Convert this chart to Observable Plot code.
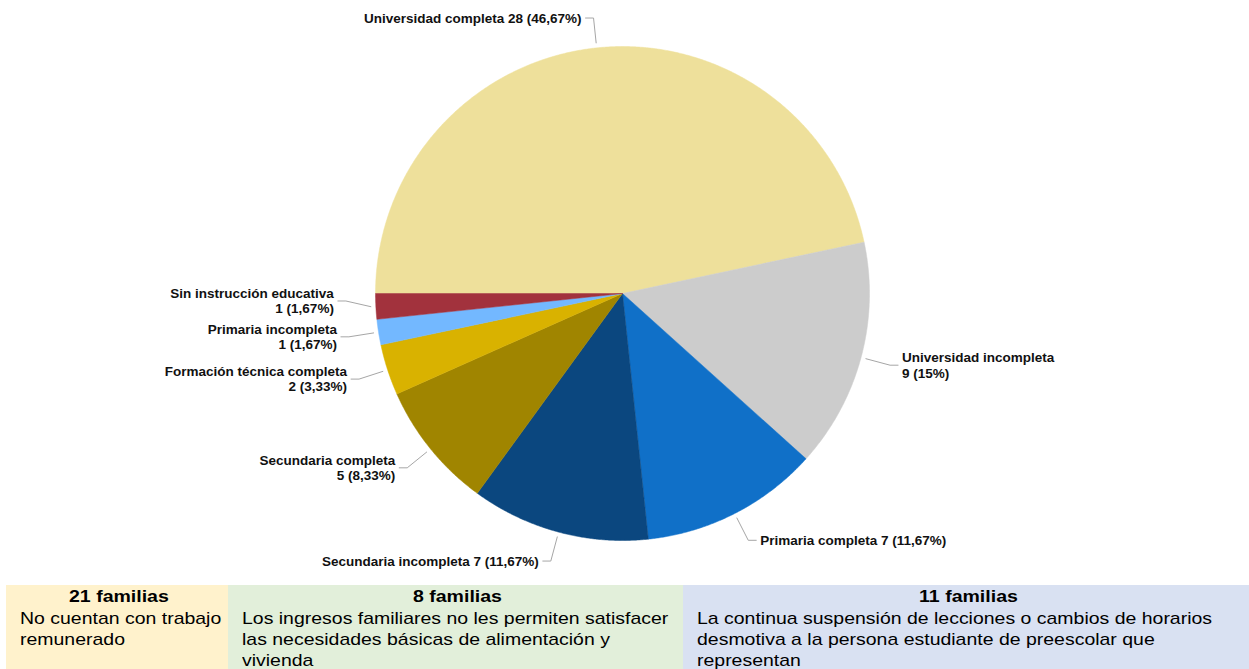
<!DOCTYPE html>
<html>
<head>
<meta charset="utf-8">
<script src="https://cdn.jsdelivr.net/npm/d3@7"></script>
<script src="https://cdn.jsdelivr.net/npm/@observablehq/plot@0.6"></script>
<style>
  html, body { margin: 0; padding: 0; background: #fff; overflow: hidden; }
  #chart svg { display: block; }
  #tbl { display: flex; margin-left: 6px; width: 1243px; font-family: "Liberation Sans", Arial, sans-serif; color: #000; }
  #tbl .col { height: 90px; box-sizing: border-box; padding: 1px 10px 0 14px; overflow: hidden; }
  #tbl .hd { font-weight: bold; font-size: 16px; line-height: 22px; text-align: center; }
  #tbl .hd span { display: inline-block; transform: scaleX(1.22); transform-origin: center; }
  #tbl .bd { font-size: 17px; line-height: 21px; white-space: pre; }
  #tbl .bd span { display: inline-block; transform: scaleX(1.145); transform-origin: left top; }
</style>
</head>
<body>
<div id="chart"></div>
<div id="tbl"></div>
<script>
// ---- data ----
const categories = ["Universidad completa", "Universidad incompleta", "Primaria completa", "Secundaria incompleta", "Secundaria completa", "Formación técnica completa", "Primaria incompleta", "Sin instrucción educativa"];
const counts = [28, 9, 7, 7, 5, 2, 1, 1];
const sliceColors = ["#EEE09B", "#CCCCCC", "#1070C8", "#0B477F", "#A08500", "#D9B200", "#73B8FF", "#A2323D"];

const familias = [21, 8, 11];
const reasons = [
  "No cuentan con trabajo\nremunerado",
  "Los ingresos familiares no les permiten satisfacer\nlas necesidades básicas de alimentación y\nvivienda",
  "La continua suspensión de lecciones o cambios de horarios\ndesmotiva a la persona estudiante de preescolar que\nrepresentan"
];
const boxColors = ["#FFF2CC", "#E2EFDA", "#D9E1F2"];
const boxWidths = [222, 455, 566];

// ---- layout ----
const W = 1249, H = 585;
const cx = 622, cy = 293, R = 247;
const labelLayout = {
  "Universidad completa": {side: -1, wrap: false, dy: 0},
  "Universidad incompleta": {side: 1, wrap: true, dy: 0},
  "Primaria completa": {side: 1, wrap: false, dy: 0},
  "Secundaria incompleta": {side: -1, wrap: false, dy: 0},
  "Secundaria completa": {side: -1, wrap: true, dy: 0},
  "Formación técnica completa": {side: -1, wrap: true, dy: 0},
  "Primaria incompleta": {side: -1, wrap: true, dy: 0},
  "Sin instrucción educativa": {side: -1, wrap: true, dy: -7}
};

const total = d3.sum(counts);
const fmtPct = v => String(Math.round(v / total * 10000) / 100).replace(".", ",");
const polar = (a, r) => [cx + r * Math.sin(a), cy - r * Math.cos(a)];

const arcs = d3.pie().sort(null).startAngle(-Math.PI / 2).endAngle(1.5 * Math.PI)(counts);

const slicePts = arcs.flatMap((a, i) => {
  const name = categories[i];
  const n = Math.max(2, Math.ceil((a.endAngle - a.startAngle) / 0.005));
  const pts = [{name, x: cx, y: cy}];
  for (let k = 0; k <= n; k++) {
    const t = a.startAngle + (a.endAngle - a.startAngle) * k / n;
    const [x, y] = polar(t, R);
    pts.push({name, x, y});
  }
  pts.push({name, x: cx, y: cy});
  return pts;
});

const leaderPts = [];
const labels = arcs.map((a, i) => {
  const name = categories[i];
  const L = labelLayout[name];
  const mid = (a.startAngle + a.endAngle) / 2;
  const [x0, y0] = polar(mid, R + 5);
  let [x1, y1] = polar(mid, R + 30);
  y1 += L.dy;
  const x2 = x1 + L.side * 8;
  leaderPts.push({name, x: x0, y: y0}, {name, x: x1, y: y1}, {name, x: x2, y: y1});
  const pct = fmtPct(counts[i]);
  const text = L.wrap ? `${name}\n${counts[i]} (${pct}%)` : `${name} ${counts[i]} (${pct}%)`;
  return {name, x: x2 + L.side * 4, y: y1, text, side: L.side};
});

const textOpts = {x: "x", y: "y", text: "text", lineAnchor: "middle", lineHeight: 1.12, fontSize: 13.5, fontWeight: "bold", fill: "#111"};

const chart = Plot.plot({
  width: W,
  height: H,
  margin: 0,
  style: {fontFamily: "'Liberation Sans', Arial, sans-serif", background: "#fff"},
  x: {domain: [0, W], range: [0, W], axis: null},
  y: {domain: [0, H], range: [0, H], axis: null},
  color: {domain: categories, range: sliceColors},
  marks: [
    Plot.line(slicePts, {x: "x", y: "y", z: "name", fill: "name", stroke: "name", strokeWidth: 0.5, curve: "linear"}),
    Plot.line(leaderPts, {x: "x", y: "y", z: "name", stroke: "#A6A6A6", strokeWidth: 1}),
    Plot.text(labels.filter(d => d.side > 0), {...textOpts, textAnchor: "start"}),
    Plot.text(labels.filter(d => d.side < 0), {...textOpts, textAnchor: "end"})
  ]
});
document.getElementById("chart").appendChild(chart);

// ---- bottom table ----
const tbl = document.getElementById("tbl");
familias.forEach((f, i) => {
  const col = document.createElement("div");
  col.className = "col";
  col.style.width = boxWidths[i] + "px";
  col.style.background = boxColors[i];
  const hd = document.createElement("div");
  hd.className = "hd";
  const hs = document.createElement("span");
  hs.textContent = `${f} familias`;
  hd.appendChild(hs);
  col.appendChild(hd);
  reasons[i].split("\n").forEach(line => {
    const bd = document.createElement("div");
    bd.className = "bd";
    const s = document.createElement("span");
    s.textContent = line;
    bd.appendChild(s);
    col.appendChild(bd);
  });
  tbl.appendChild(col);
});
</script>
</body>
</html>
